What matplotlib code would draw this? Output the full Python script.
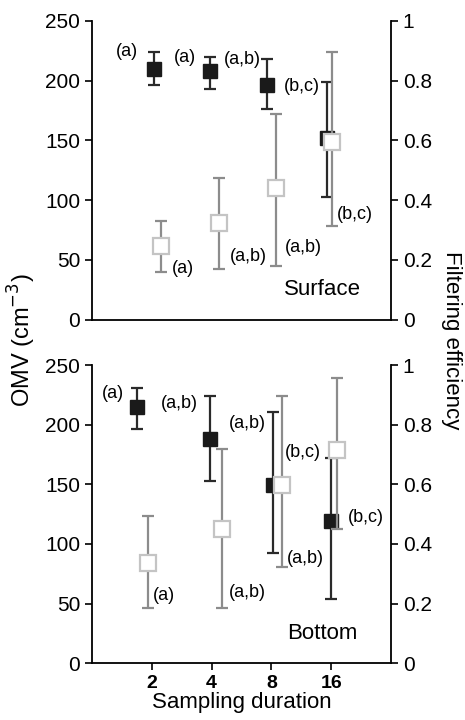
import numpy as np
import matplotlib.pyplot as plt

plt.rcParams['font.family'] = ['Liberation Sans', 'DejaVu Sans']

durations = [2, 4, 8, 16]
tick_labels = ['2', '4', '8', '16']

# surface: OMV (left axis) and filtering efficiency (right axis)
omv_surf = [210, 208, 196, 152]
omv_surf_lo = [196, 193, 176, 103]
omv_surf_hi = [224, 220, 218, 199]
fe_surf = [0.245, 0.325, 0.44, 0.595]
fe_surf_lo = [0.158, 0.17, 0.178, 0.314]
fe_surf_hi = [0.33, 0.474, 0.69, 0.895]

# bottom
omv_bot = [215, 188, 149, 119]
omv_bot_lo = [196, 153, 92, 54]
omv_bot_hi = [231, 224, 211, 172]
fe_bot = [0.337, 0.45, 0.596, 0.715]
fe_bot_lo = [0.184, 0.184, 0.321, 0.45]
fe_bot_hi = [0.493, 0.718, 0.896, 0.958]

# significance letters
surf_letters = ['(a)', '(a)', '(a,b)', '(b,c)', '(a)', '(a,b)', '(a,b)', '(b,c)']
bot_letters = ['(a)', '(a,b)', '(a,b)', '(b,c)', '(b,c)', '(a)', '(a,b)', '(a,b)']

# label positions (axes fraction) and horizontal dodges (log2 units)
surf_pos = [(0.117, 0.896), (0.311, 0.876), (0.502, 0.870), (0.702, 0.779),
            (0.304, 0.171), (0.522, 0.211), (0.706, 0.241), (0.880, 0.351)]
bot_pos = [(0.070, 0.906), (0.291, 0.872), (0.518, 0.805), (0.706, 0.708),
           (0.916, 0.487), (0.241, 0.228), (0.518, 0.238), (0.712, 0.352)]
surf_dodge = ([0.03, -0.02, -0.07, -0.07], [0.15, 0.13, 0.07, 0.02])
bot_dodge = ([-0.25, -0.03, 0.02, 0.0], [-0.07, 0.17, 0.18, 0.1])


def panel(ax, omv, lo, hi, fe, flo, fhi, dodge, letters, pos, name, show_x):
    d = np.array(durations, dtype=float)
    xb = d * 2 ** np.array(dodge[0])
    xo = d * 2 ** np.array(dodge[1])
    omv = np.array(omv); fe = np.array(fe)
    ax.errorbar(xb, omv, yerr=[omv - np.array(lo), np.array(hi) - omv],
                fmt='s', color='#1a1a1a', ms=10, mfc='#1a1a1a', mec='#1a1a1a',
                elinewidth=1.6, capsize=4, capthick=1.6, ecolor='#2a2a2a')
    ax.set_xscale('log', base=2)
    ax.set_xlim(1, 32)
    ax.set_ylim(0, 250)
    ax.set_yticks(range(0, 251, 50))
    ax.spines['top'].set_visible(False)
    ax.spines['right'].set_visible(False)
    for s in ['left', 'bottom']:
        ax.spines[s].set_linewidth(1.3)
    ax.tick_params(axis='y', labelsize=15, length=5, width=1.2)
    ax.minorticks_off()
    if show_x:
        ax.set_xticks(durations)
        ax.set_xticklabels(tick_labels, fontsize=14, fontweight='bold')
        ax.tick_params(axis='x', length=5, width=1.2)
        ax.set_xlabel('Sampling duration', fontsize=16, labelpad=0)
    else:
        ax.set_xticks([])

    ax2 = ax.twinx()
    ax2.errorbar(xo, fe, yerr=[fe - np.array(flo), np.array(fhi) - fe],
                 fmt='s', color='#bdbdbd', ms=11, mfc='white', mec='#c4c4c4',
                 mew=1.6, elinewidth=1.6, capsize=4, capthick=1.6, ecolor='#8c8c8c')
    ax2.set_ylim(0, 1)
    ax2.set_yticks([0, 0.2, 0.4, 0.6, 0.8, 1])
    ax2.set_yticklabels(['0', '0.2', '0.4', '0.6', '0.8', '1'])
    ax2.spines['top'].set_visible(False)
    ax2.spines['left'].set_visible(False)
    ax2.spines['bottom'].set_visible(False)
    ax2.spines['right'].set_linewidth(1.3)
    ax2.tick_params(axis='y', labelsize=15, length=5, width=1.2)

    for txt, (px, py) in zip(letters, pos):
        ax2.text(px, py, txt, transform=ax2.transAxes, fontsize=13,
                 ha='center', va='center')
    ax2.text(0.77, 0.10, name, transform=ax2.transAxes, fontsize=16,
             ha='center', va='center')


fig = plt.figure(figsize=(4.65, 7.2), dpi=100)
ax_top = fig.add_axes([0.198, 0.556, 0.643, 0.415])
ax_bot = fig.add_axes([0.198, 0.079, 0.643, 0.414])

panel(ax_top, omv_surf, omv_surf_lo, omv_surf_hi, fe_surf, fe_surf_lo, fe_surf_hi,
      surf_dodge, surf_letters, surf_pos, 'Surface', False)
panel(ax_bot, omv_bot, omv_bot_lo, omv_bot_hi, fe_bot, fe_bot_lo, fe_bot_hi,
      bot_dodge, bot_letters, bot_pos, 'Bottom', True)

fig.text(0.047, 0.528, 'OMV (cm$^{-3}$)', rotation=90, fontsize=17,
         ha='center', va='center')
fig.text(0.972, 0.528, 'Filtering efficiency', rotation=270, fontsize=16,
         ha='center', va='center')

fig.savefig('out.png', dpi=100)
